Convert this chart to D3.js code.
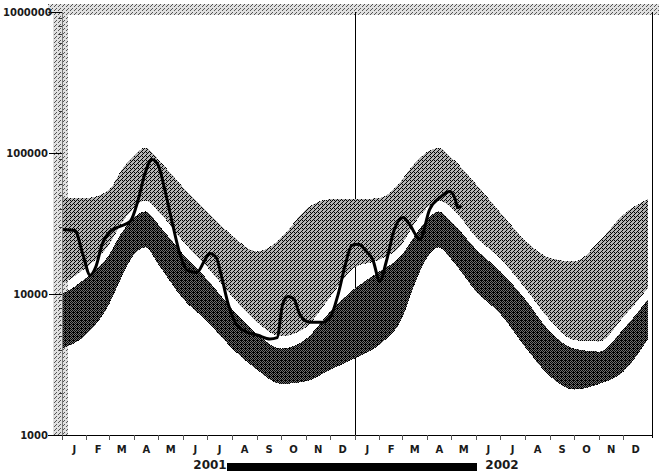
<!DOCTYPE html>
<meta charset="utf-8">
<head>
<script src="https://d3js.org/d3.v7.min.js"></script>
<style>
  body { margin: 0; background: #fff; }
  svg { display: block; }
  .lbl { font: bold 10px "DejaVu Sans", sans-serif; fill: #1a1a1a; }
</style>
</head>
<body>
<script>
    // duration hydrograph, 2001-2002, log flow axis

    width = 659
    height = 471
    margin = ({top: 12, right: 9, bottom: 37, left: 62})

    // percentile bands (same dates for every band)
    bandDates = ["2001-01-01","2001-02-01","2001-03-01","2001-03-15","2001-04-01","2001-04-15","2001-05-01",
      "2001-06-01","2001-07-01","2001-08-01","2001-09-01","2001-10-01","2001-11-01","2001-12-01",
      "2002-01-01","2002-02-01","2002-03-01","2002-03-15","2002-04-01","2002-04-15","2002-05-01",
      "2002-06-01","2002-07-01","2002-08-01","2002-09-01","2002-10-01","2002-11-01","2002-12-01","2003-01-01"]
    bandMax = [48000,48000,55000,74000,97000,109000,90000,57000,38000,26000,20000,25000,40000,47000,
      47000,48000,65000,83000,102000,109000,93000,60000,38000,24000,18000,17000,23500,36500,47000]
    band75 = [11700,15500,22500,31000,41000,46000,38500,23500,15500,9600,6300,5000,5800,9500,
      15500,17500,22800,31000,41000,46000,41000,25200,17800,11000,6500,4700,4600,6800,11000]
    band25 = [9950,13100,19100,26500,34900,38500,31100,19100,12700,7800,5200,4100,4800,7500,
      11000,14500,19100,25200,33800,38500,32700,20700,14500,9200,5400,4100,3900,5600,9200]
    bandMin = [4100,5200,8500,12700,19100,21400,16200,9200,6400,4100,2900,2300,2400,2900,
      3500,4400,6800,11200,18200,21400,17600,10400,7200,4200,2600,2100,2300,2800,4800]

    // observed daily flow
    obsDates = ["2001-01-01","2001-01-17","2001-01-27","2001-02-05","2001-02-12","2001-02-20","2001-03-02",
      "2001-03-14","2001-03-27","2001-04-06","2001-04-14","2001-04-23","2001-05-01","2001-05-09","2001-05-18",
      "2001-05-28","2001-06-06","2001-06-18","2001-06-27","2001-07-04","2001-07-12","2001-07-19","2001-07-27",
      "2001-08-06","2001-08-18","2001-09-02","2001-09-17","2001-09-26","2001-10-03","2001-10-10","2001-10-17",
      "2001-10-24","2001-11-06","2001-11-21","2001-12-01","2001-12-11","2001-12-20","2001-12-28","2002-01-05",
      "2002-01-15","2002-01-23","2002-02-01","2002-02-09","2002-02-19","2002-03-02","2002-03-10","2002-03-23",
      "2002-04-04","2002-04-17","2002-04-29","2002-05-06","2002-05-09","2002-05-14"]
    obsFlow = [28700,28200,19100,13600,15500,22500,27800,30100,32700,46800,70300,89800,81500,55100,32700,
      19100,14700,14200,17000,19400,18200,13100,8500,6100,5400,5100,4800,4900,8500,9600,9200,7200,6300,6300,
      6800,9950,16200,22100,22500,20100,17600,12300,17000,28700,34900,31100,24400,39800,48400,53300,46800,41100,41800]

    yTicks = [1000, 10000, 100000, 1000000]
    monthLetters = ["J","F","M","A","M","J","J","A","S","O","N","D"]
    years = ["2001", "2002"]

    parse = d3.timeParse("%Y-%m-%d")
    bands = bandDates.map((d, i) => ({date: parse(d), max: bandMax[i], p75: band75[i], p25: band25[i], min: bandMin[i]}))
    obs = obsDates.map((d, i) => ({date: parse(d), v: obsFlow[i]}))

    x = d3.scaleTime()
      .domain([parse("2001-01-01"), parse("2003-01-01")])
      .range([margin.left, width - margin.right - 2])

    y = d3.scaleLog()
      .domain([1000, 1000000])
      .range([height - margin.bottom + 1, margin.top])

    var svg = d3.select("body").append("svg")
      .attr("width", width)
      .attr("height", height)
      .attr("viewBox", [0, 0, width, height])
      .attr("shape-rendering", "crispEdges")

    // stipple textures
    function stipple(id, bg, ink, dots) {
      var p = svg.append("defs").append("pattern").attr("id", id)
        .attr("width", 4).attr("height", 4).attr("patternUnits", "userSpaceOnUse")
      p.append("rect").attr("width", 4).attr("height", 4).attr("fill", bg)
      dots.forEach(q => p.append("rect").attr("x", q[0]).attr("y", q[1]).attr("width", 1).attr("height", 1).attr("fill", ink))
    }
    stipple("light", "#b4b4b4", "#000", [[0,0],[2,2],[1,3],[3,1],[2,0]])
    stipple("dark", "#6e6e6e", "#000", [[0,0],[1,1],[2,2],[3,3],[0,2],[2,0],[1,3],[3,1],[1,0]])
    stipple("faint", "#e0e0e0", "#555", [[0,0],[2,2],[3,1]])

    // top strip and left axis strip
    svg.append("rect").attr("x", 48).attr("y", 4).attr("width", width - 48).attr("height", 11).attr("fill", "url(#faint)")
    svg.append("rect").attr("x", 53).attr("y", 15).attr("width", 15).attr("height", y(1000) - 15).attr("fill", "url(#faint)")

    // year divider + right border
    svg.append("line")
      .attr("x1", x(parse("2002-01-01"))).attr("x2", x(parse("2002-01-01")))
      .attr("y1", margin.top).attr("y2", y(1000))
      .attr("stroke", "#000")
    svg.append("line")
      .attr("x1", width - margin.right + 2).attr("x2", width - margin.right + 2)
      .attr("y1", margin.top).attr("y2", y(1000) + 3)
      .attr("stroke", "#000")

    area = (a, b) => d3.area()
      .curve(d3.curveMonotoneX)
      .x(d => x(d.date))
      .y0(d => y(d[b]))
      .y1(d => y(d[a]))

    svg.append("path").datum(bands).attr("fill", "url(#light)").attr("d", area("max", "p75"))
    svg.append("path").datum(bands).attr("fill", "url(#dark)").attr("d", area("p25", "min"))

    // observed line
    svg.append("path").datum(obs)
      .attr("fill", "none")
      .attr("stroke", "#000")
      .attr("stroke-width", 3)
      .attr("stroke-linejoin", "round")
      .attr("shape-rendering", "auto")
      .attr("d", d3.line().curve(d3.curveMonotoneX).x(d => x(d.date)).y(d => y(d.v)))

    // y axis
    var yAxis = svg.append("g")
    yAxis.selectAll("line.minor")
      .data(y.ticks().filter(t => !yTicks.includes(t)))
      .join("line")
        .attr("x1", margin.left - 3).attr("x2", margin.left)
        .attr("y1", d => Math.round(y(d))).attr("y2", d => Math.round(y(d)))
        .attr("stroke", "#333")
    yAxis.selectAll("line.major")
      .data(yTicks)
      .join("line")
        .attr("x1", margin.left - 13).attr("x2", margin.left)
        .attr("y1", d => Math.round(y(d))).attr("y2", d => Math.round(y(d)))
        .attr("stroke", "#000")
    yAxis.selectAll("text")
      .data(yTicks)
      .join("text")
        .attr("class", "lbl")
        .attr("x", d => d == 1000000 ? 3 : margin.left - 14)
        .attr("y", d => y(d))
        .attr("dy", "0.35em")
        .attr("text-anchor", d => d == 1000000 ? "start" : "end")
        .text(d => d)
    yAxis.append("line")
      .attr("x1", margin.left).attr("x2", margin.left)
      .attr("y1", margin.top).attr("y2", y(1000))
      .attr("stroke", "#777")

    // x axis
    var base = y(1000)
    svg.append("line")
      .attr("x1", 48).attr("x2", width - margin.right + 2)
      .attr("y1", base).attr("y2", base)
      .attr("stroke", "#000")

    var months = x.ticks(d3.timeMonth.every(1)).filter(d => d < x.domain()[1])
    svg.append("g").selectAll("line")
      .data(months)
      .join("line")
        .attr("x1", d => x(d)).attr("x2", d => x(d))
        .attr("y1", base).attr("y2", base + 5)
        .attr("stroke", "#555")
    svg.append("g").selectAll("text")
      .data(months)
      .join("text")
        .attr("class", "lbl")
        .attr("x", d => (x(d) + x(d3.timeMonth.offset(d, 1))) / 2)
        .attr("y", base + 18)
        .attr("text-anchor", "middle")
        .text(d => monthLetters[d.getMonth()])

    svg.append("g").selectAll("text")
      .data(years)
      .join("text")
        .attr("class", "lbl")
        .attr("x", (d, i) => i == 0 ? 210 : 502)
        .attr("y", height - 2)
        .attr("text-anchor", "middle")
        .style("font-size", "12px")
        .text(d => d)

    svg.append("rect")
      .attr("x", 227).attr("y", 463)
      .attr("width", 250).attr("height", 8)
      .attr("fill", "#000")
</script>
</body>
